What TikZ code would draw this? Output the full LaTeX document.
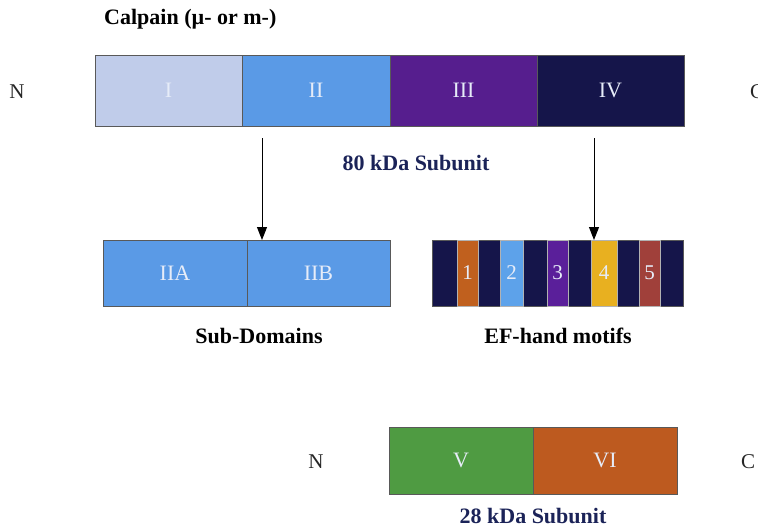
\documentclass[tikz,border=0pt]{standalone}
\usepackage{fontspec}
\setmainfont{Liberation Serif}
\usetikzlibrary{arrows.meta}
\definecolor{cI}{HTML}{C0CCEA}
\definecolor{cII}{HTML}{5A9AE6}
\definecolor{cIII}{HTML}{561E8E}
\definecolor{cIV}{HTML}{15154A}
\definecolor{cOr}{HTML}{C0601E}
\definecolor{cBl}{HTML}{5DA2EA}
\definecolor{cPu}{HTML}{5A1F9A}
\definecolor{cYe}{HTML}{E8B020}
\definecolor{cRe}{HTML}{A0403A}
\definecolor{cV}{HTML}{4F9B42}
\definecolor{cVI}{HTML}{BD5A1F}
\definecolor{navy}{HTML}{1B2358}
\definecolor{lab}{HTML}{E6ECF8}
\begin{document}
\begin{tikzpicture}[x=1pt,y=-1pt,
  seg/.style={draw=gray!70!black,line width=0.6pt,inner sep=0pt,outer sep=0pt,minimum height=#1,text=lab,font=\fontsize{22}{26}\selectfont},
  seg/.default=71pt,
  term/.style={font=\fontsize{21}{25}\selectfont,text=black!85},
  captxt/.style={font=\bfseries\fontsize{22}{26}\selectfont},
  arr/.style={-{Triangle[length=13pt,width=10pt]},line width=1pt}]
\useasboundingbox (0,0) rectangle (758,527);
% title
\node[captxt,anchor=west,inner sep=0pt] (title) at (104,19) {Calpain (µ- or m-)};
% top bar
\node[seg,fill=cI,minimum width=147pt] (I) at (168.5,90.5) {I};
\node[seg,fill=cII,minimum width=148pt] (II) at (316,90.5) {II};
\node[seg,fill=cIII,minimum width=147pt] (III) at (463.5,90.5) {III};
\node[seg,fill=cIV,minimum width=147pt] (IV) at (610.5,90.5) {IV};
\node[term] (N1) at (17,92) {N};
\node[term] (C1) at (757,92) {C};
\node[captxt,text=navy] (kda80) at (416,163) {80 kDa Subunit};
% subdomains
\node[seg=66pt,fill=cII,minimum width=144pt] (IIA) at (175,273) {IIA};
\node[seg=66pt,fill=cII,minimum width=143pt] (IIB) at (318.5,273) {IIB};
\node[captxt] (sub) at (259,336) {Sub-Domains};
% EF hands
\node[seg=66pt,fill=cIV,minimum width=251pt] (EF) at (558,273) {};
\foreach \x/\w/\c/\n/\t in {467.5/21/cOr/e1/1, 511.5/23/cBl/e2/2, 557.5/21/cPu/e3/3, 604/26/cYe/e4/4, 649.5/21/cRe/e5/5}{
  \node[seg=66pt,fill=\c,minimum width=\w pt,draw=gray!60,font=\fontsize{21}{24}\selectfont] (\n) at (\x,273) {\t};
}
\node[captxt] (efl) at (558,336) {EF-hand motifs};
% arrows
\coordinate (a1s) at (262,138);
\coordinate (a2s) at (594,138);
\draw[arr] (a1s) -- (a1s |- IIB.north);
\draw[arr] (a2s) -- (a2s |- EF.north);
% bottom
\node[seg=67pt,fill=cV,minimum width=144pt] (V) at (461,460.5) {V};
\node[seg=67pt,fill=cVI,minimum width=144pt] (VI) at (605,460.5) {VI};
\node[term] (N2) at (316,462) {N};
\node[term] (C2) at (748,462) {C};
\node[captxt,text=navy] (kda28) at (533,516) {28 kDa Subunit};
\end{tikzpicture}
\end{document}
